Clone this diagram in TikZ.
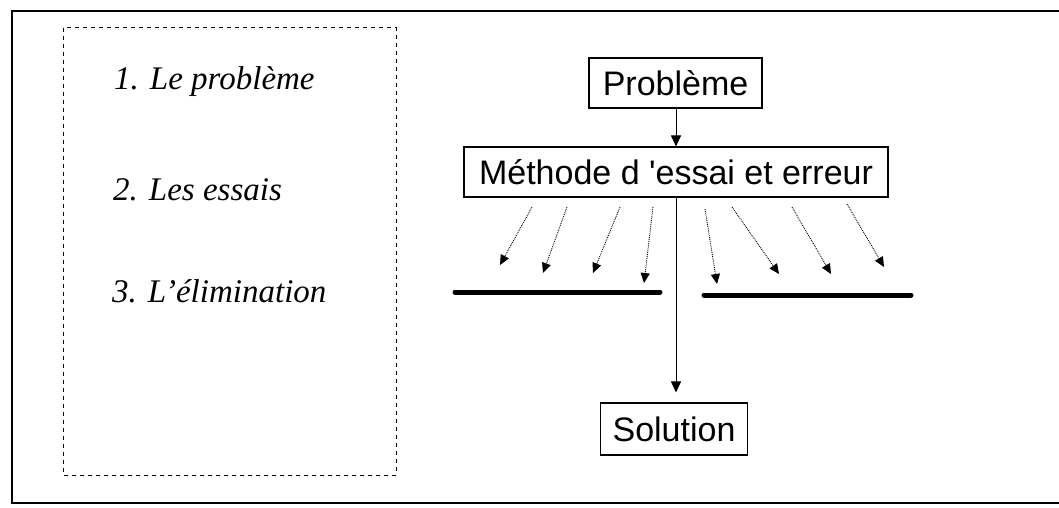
\documentclass[tikz,border=0pt]{standalone}
\usepackage{fontspec}
\setmainfont{Liberation Serif}
\setsansfont{Liberation Sans}
\newfontfamily\boxfont{Liberation Sans}
\usetikzlibrary{arrows.meta}
\begin{document}
\begin{tikzpicture}[x=1pt,y=-1pt,
  box/.style={draw,line width=1.1pt,inner sep=0pt,font=\boxfont\fontsize{34}{40}\selectfont},
  item/.style={anchor=base west,inner sep=0pt,font=\itshape\fontsize{33}{40}\selectfont},
  solidarrow/.style={line width=1pt,-{Triangle[length=11pt,width=10pt]}},
  trial/.style={line width=0.9pt,densely dotted,-{Triangle[length=10pt,width=9pt]}},
  bar/.style={line width=5pt,line cap=round}]
\useasboundingbox (0,0) rectangle (1059,508);
% outer frame (open on the right)
\draw[line width=2.4pt] (1070,11) -- (12,11) -- (12,503) -- (1070,503);
% dashed box
\draw[line width=1pt,dash pattern=on 4pt off 4pt] (63,28) rectangle (396,475);
\node[item] (t1) at (114,90) {1. Le problème};
\node[item] (t2) at (113,200) {2. Les essais};
\node[item] (t3) at (112,302) {3. L’élimination};
% flow
\node[box,minimum width=173pt,minimum height=50pt] (prob) at (675.5,83) {Problème};
\node[box,minimum width=424pt,minimum height=50pt] (meth) at (676,172) {Méthode d 'essai et erreur};
\node[box,minimum width=147pt,minimum height=52pt] (sol) at (674,429) {Solution};
\draw[solidarrow] (prob.south -| 676,0) -- (meth.north -| 676,0);
\draw[solidarrow,shorten >=10pt] (meth.south -| 676,0) -- (sol.north -| 676,0);
% bars
\coordinate (bl1) at (455,292); \coordinate (bl2) at (660,292);
\coordinate (br1) at (704,295); \coordinate (br2) at (911,295);
\draw[bar] (bl1) -- (bl2);
\draw[bar] (br1) -- (br2);
% trial arrows
\foreach \i/\sx/\sy/\ex/\ey in {1/532/207/500/265,2/567/207/543/273,3/620/207/593/273,4/653/207/644/283,
  5/705/209/717/284,6/732/207/779/274,7/792/207/831/274,8/847/204/884/267}{
  \coordinate (s\i) at (\sx,\sy);
  \coordinate (e\i) at (\ex,\ey);
  \draw[trial] (s\i) -- (e\i);
}
\end{tikzpicture}
\end{document}
